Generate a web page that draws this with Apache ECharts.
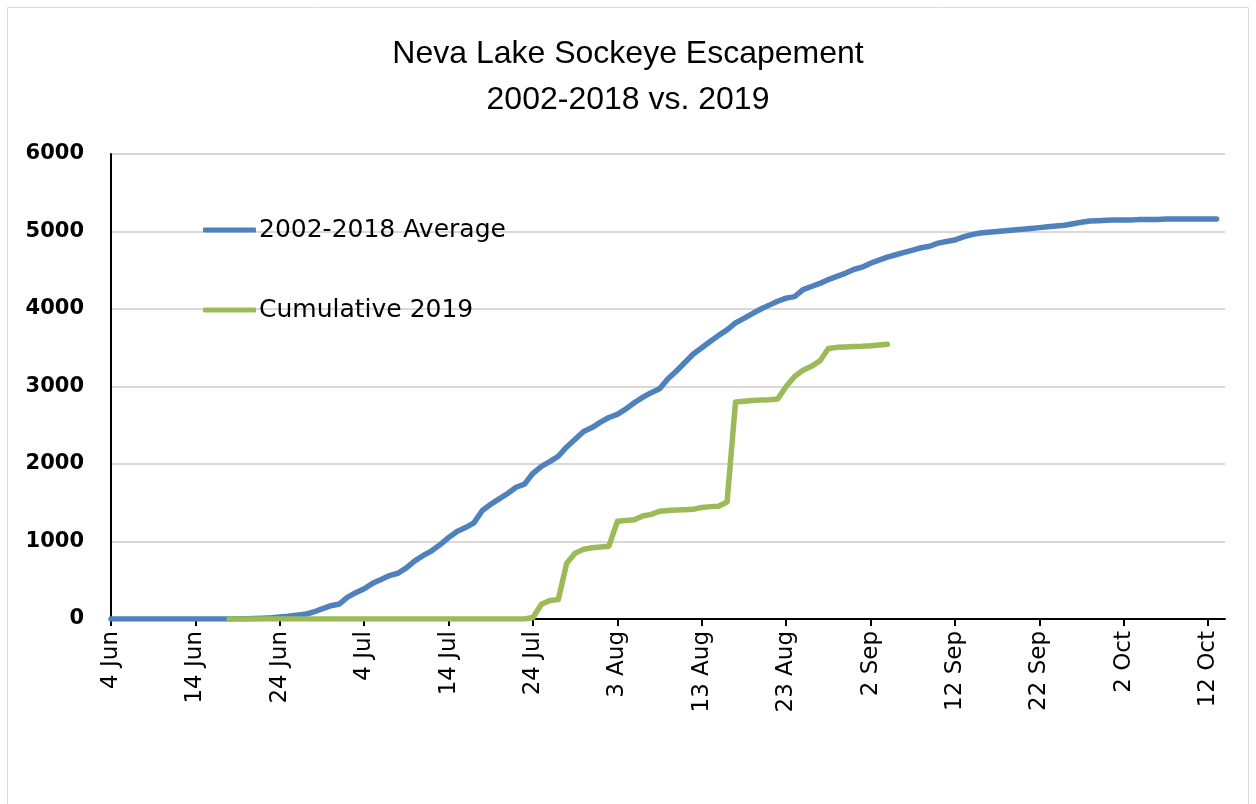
<!DOCTYPE html>
<html>
<head>
<meta charset="utf-8">
<script src="https://cdn.jsdelivr.net/npm/echarts@6/dist/echarts.min.js"></script>
<style>
  html, body { margin: 0; padding: 0; background: #fff; }
  #chart { width: 1256px; height: 804px; }
</style>
</head>
<body>
<div id="chart"></div>
<script>
// Neva Lake sockeye escapement, daily cumulative counts from 4 Jun

const startDate = new Date(2019, 5, 4);   // 4 Jun
const dayCount = 133;                      // axis runs to 14 Oct
const monthNames = ['Jan', 'Feb', 'Mar', 'Apr', 'May', 'Jun', 'Jul', 'Aug', 'Sep', 'Oct', 'Nov', 'Dec'];

const dayLabels = [];
for (let i = 0; i < dayCount; i++) {
    const d = new Date(startDate.getTime() + i * 86400000);
    dayLabels.push(d.getDate() + ' ' + monthNames[d.getMonth()]);
}

// 2002-2018 average (4 Jun .. 13 Oct)
const averageValues = [
    0, 0, 0, 0, 0, 0, 0, 0, 0, 0, 0, 0, 0, 0, 0,
    2, 4, 6, 10, 15, 25, 35, 50, 60, 90,
    130, 170, 190, 280, 340, 390, 460, 510, 560, 590,
    660, 750, 820, 880, 960, 1050, 1130, 1180, 1240, 1400,
    1480, 1550, 1620, 1700, 1740, 1880, 1970, 2030, 2100, 2220,
    2320, 2420, 2470, 2540, 2600, 2640, 2710, 2790, 2860, 2920,
    2970, 3100, 3200, 3310, 3420, 3500, 3580, 3660, 3730, 3820,
    3880, 3940, 4000, 4050, 4100, 4140, 4160, 4250, 4290, 4330,
    4380, 4420, 4460, 4510, 4540, 4590, 4630, 4670, 4700, 4730,
    4760, 4790, 4810, 4850, 4870, 4890, 4930, 4960, 4980, 4990,
    5000, 5010, 5020, 5030, 5040, 5050, 5060, 5070, 5080, 5100,
    5120, 5135, 5140, 5145, 5150, 5150, 5150, 5155, 5155, 5155,
    5160, 5160, 5160, 5160, 5160, 5160, 5160
];

// Cumulative 2019 (18 Jun .. 4 Sep)
const cumulative2019 = [
    null, null, null, null, null, null, null, null, null, null, null, null, null, null,
    0, 0, 0, 0, 0, 0, 0, 0, 0, 0, 0, 0, 0, 0, 0, 0, 0, 0, 0, 0, 0, 0,
    0, 0, 0, 0, 0, 0, 0, 0, 0, 0, 0, 0, 0, 0,
    20, 190, 240, 250, 720, 850, 900, 920, 930, 940,
    1260, 1270, 1280, 1330, 1350, 1390, 1400, 1405, 1410, 1415,
    1440, 1450, 1455, 1510, 2800, 2810, 2820, 2825, 2830, 2840,
    3000, 3130, 3210, 3260, 3330, 3490, 3505, 3510, 3515, 3518,
    3525, 3535, 3545
];

const titleFont = '"Liberation Sans", Arial, sans-serif';
const bodyFont = '"DejaVu Sans", sans-serif';

const chart = echarts.init(document.getElementById('chart'));

const option = {
    backgroundColor: '#fff',
    animation: false,
    graphic: [{
        type: 'rect',
        shape: { x: 7.5, y: 7.5, width: 1241, height: 820 },
        style: { fill: 'none', stroke: '#d9d9d9', lineWidth: 1 },
        silent: true
    }],
    title: {
        text: 'Neva Lake Sockeye Escapement\n2002-2018 vs. 2019',
        left: 'center',
        top: 26,
        textStyle: {
            fontFamily: titleFont,
            fontSize: 32,
            fontWeight: 'normal',
            color: '#000',
            lineHeight: 46
        }
    },
    legend: {
        orient: 'vertical',
        left: 198,
        top: 210,
        icon: 'roundRect',
        itemWidth: 53,
        itemHeight: 5,
        itemGap: 50,
        textStyle: {
            fontFamily: bodyFont,
            fontSize: 25,
            lineHeight: 30,
            color: '#000',
            padding: [0, 0, 0, -2]
        },
        data: ['2002-2018 Average', 'Cumulative 2019']
    },
    grid: {
        left: 111,
        right: 31,
        top: 154,
        bottom: 185,
        containLabel: false
    },
    xAxis: {
        type: 'category',
        data: dayLabels,
        boundaryGap: false,
        axisLine: { lineStyle: { color: '#000', width: 2 } },
        axisTick: { show: true, interval: 9, length: 7, lineStyle: { color: '#000', width: 2 } },
        axisLabel: {
            interval: 9,
            rotate: 90,
            margin: 12,
            fontFamily: bodyFont,
            fontSize: 23,
            color: '#000'
        },
        splitLine: { show: false }
    },
    yAxis: {
        type: 'value',
        min: 0,
        max: 6000,
        interval: 1000,
        axisLine: { show: true, lineStyle: { color: '#000', width: 2 } },
        axisTick: { show: false },
        axisLabel: {
            margin: 27,
            fontFamily: bodyFont,
            fontSize: 21,
            fontWeight: 'bold',
            color: '#000',
            formatter: function (v) { return String(v); }
        },
        splitLine: { lineStyle: { color: '#d9d9d9', width: 2 } }
    },
    series: [
        {
            name: '2002-2018 Average',
            type: 'line',
            data: averageValues,
            symbol: 'none',
            lineStyle: { color: '#4f81bd', width: 5.5, cap: 'round', join: 'round' },
            itemStyle: { color: '#4f81bd' },
            z: 2
        },
        {
            name: 'Cumulative 2019',
            type: 'line',
            data: cumulative2019,
            symbol: 'none',
            lineStyle: { color: '#9bbb59', width: 5.5, cap: 'round', join: 'round' },
            itemStyle: { color: '#9bbb59' },
            z: 3
        }
    ]
};

chart.setOption(option);
</script>
</body>
</html>
